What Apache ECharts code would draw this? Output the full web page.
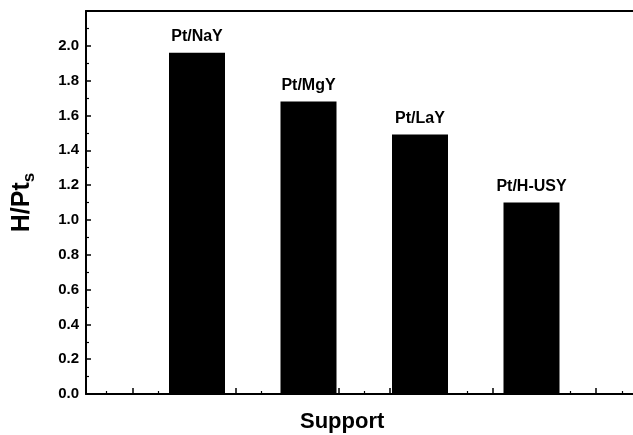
<!DOCTYPE html>
<html>
<head>
<meta charset="utf-8">
<script src="https://cdn.jsdelivr.net/npm/echarts@6/dist/echarts.min.js"></script>
<style>
  html, body { margin: 0; padding: 0; background: #fff; }
  #chart { width: 633px; height: 435px; }
</style>
</head>
<body>
<div id="chart"></div>
<script>
// Catalyst supports and hydrogen uptake per surface Pt atom
const categories = ['Pt/NaY', 'Pt/MgY', 'Pt/LaY', 'Pt/H-USY'];
const hPtValues = [1.96, 1.68, 1.49, 1.10];

// Y axis range and step
const yMin = 0;
const yMax = 2.2;
const yStep = 0.2;

// Decorative tick marks along the support axis (in tick-step units)
const xMajorTicks = [1, 3, 5, 7, 9, 11, 13, 15, 17, 19];
const xMinorTicks = [0, 2, 4, 6, 8, 10, 12, 14, 16, 18, 20];
const xRange = [-0.8, 20.43];

const FONT = 'Liberation Sans, Arial, sans-serif';
const chart = echarts.init(document.getElementById('chart'), null, { renderer: 'canvas' });

const frameGrid = { left: 86, right: 0, top: 11, bottom: 41 };
const barGrid = { left: 141.25, right: 45.75, top: 11, bottom: 41 };

chart.setOption({
  animation: false,
  backgroundColor: '#ffffff',
  grid: [frameGrid, barGrid],
  xAxis: [
    {
      gridIndex: 0, type: 'value', position: 'bottom',
      min: xRange[0], max: xRange[1],
      axisLine: { show: true, onZero: false, lineStyle: { color: '#000', width: 2 } },
      axisTick: { show: true, inside: true, length: 6, customValues: xMajorTicks,
                  lineStyle: { color: '#000', width: 1.5 } },
      axisLabel: { show: false },
      splitLine: { show: false }
    },
    {
      gridIndex: 0, type: 'value', position: 'bottom',
      min: xRange[0], max: xRange[1],
      axisLine: { show: false, onZero: false },
      axisTick: { show: true, inside: true, length: 3, customValues: xMinorTicks,
                  lineStyle: { color: '#000', width: 1.2 } },
      axisLabel: { show: false },
      splitLine: { show: false }
    },
    {
      gridIndex: 0, type: 'value', position: 'top',
      min: xRange[0], max: xRange[1],
      axisLine: { show: true, onZero: false, lineStyle: { color: '#000', width: 2 } },
      axisTick: { show: false },
      axisLabel: { show: false },
      splitLine: { show: false }
    },
    {
      gridIndex: 1, type: 'category', data: categories,
      axisLine: { show: false }, axisTick: { show: false },
      axisLabel: { show: false }, splitLine: { show: false }
    }
  ],
  yAxis: [
    {
      gridIndex: 0, type: 'value',
      min: yMin, max: yMax, interval: yStep,
      name: '{a|H/Pt}{s|s}',
      nameLocation: 'middle',
      nameRotate: 90,
      nameGap: 48,
      nameTextStyle: {
        rich: {
          a: { fontFamily: FONT, fontSize: 25, fontWeight: 'bold', color: '#000' },
          s: { fontFamily: FONT, fontSize: 17, fontWeight: 'bold', color: '#000',
               padding: [14, 0, 0, 0] }
        }
      },
      axisLine: { show: true, onZero: false, lineStyle: { color: '#000', width: 2 } },
      axisTick: { show: true, inside: true, length: 5, lineStyle: { color: '#000', width: 1.5 } },
      minorTick: { show: true, splitNumber: 2, length: 3, lineStyle: { color: '#000', width: 1.2 } },
      axisLabel: {
        margin: 7,
        fontFamily: FONT, fontSize: 15, fontWeight: 'bold', color: '#000',
        formatter: v => (v > 2.05 ? '' : v.toFixed(1))
      },
      splitLine: { show: false }
    },
    {
      gridIndex: 1, type: 'value',
      min: yMin, max: yMax, interval: yStep,
      show: false
    }
  ],
  series: [
    {
      type: 'bar',
      xAxisIndex: 3,
      yAxisIndex: 1,
      data: hPtValues,
      barWidth: 56,
      itemStyle: { color: '#000' },
      label: {
        show: true, position: 'top', distance: 8,
        fontFamily: FONT, fontSize: 16, fontWeight: 'bold', color: '#000',
        formatter: p => categories[p.dataIndex]
      }
    }
  ],
  graphic: [
    {
      type: 'text', left: 300, top: 411,
      style: {
        text: 'Support',
        font: 'bold 22px Liberation Sans, Arial, sans-serif',
        fill: '#000'
      }
    }
  ]
});
</script>
</body>
</html>
